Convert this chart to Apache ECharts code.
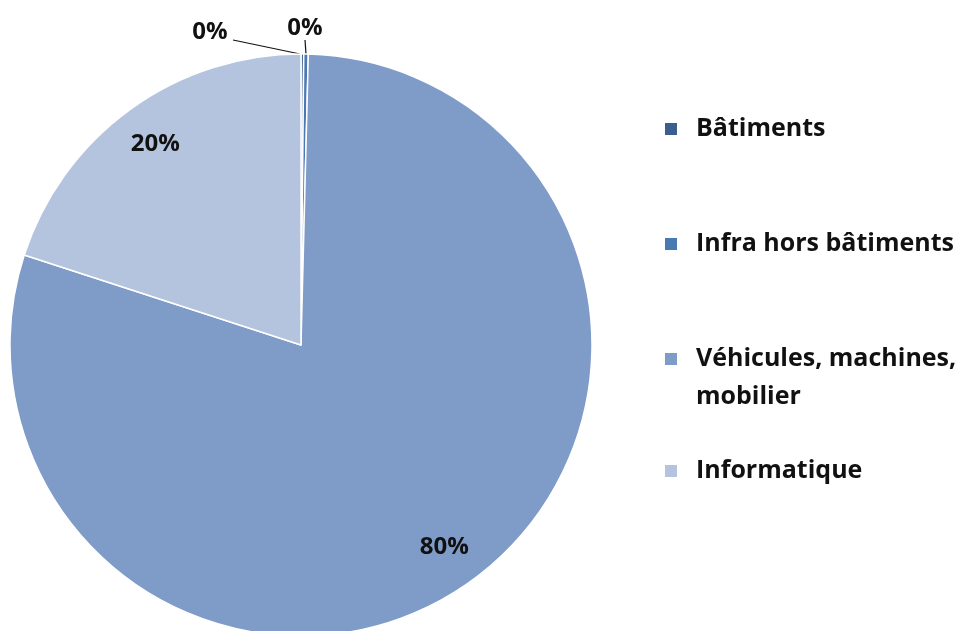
<!DOCTYPE html>
<html>
<head>
<meta charset="utf-8">
<script src="https://cdn.jsdelivr.net/npm/echarts@6/dist/echarts.min.js"></script>
<style>
  html, body { margin: 0; padding: 0; background: #fff; }
  #chart { width: 969px; height: 631px; }
</style>
</head>
<body>
<div id="chart"></div>
<script>
// données
var categories = ['Bâtiments', 'Infra hors bâtiments', 'Véhicules, machines, mobilier', 'Informatique'];
var values = [0.15, 0.25, 79.6, 20.0];
var colors = ['#3B5E8E', '#4A78B3', '#7F9CC9', '#B4C4DF'];

var FONT = 'Open Sans';
var cx = 301, cy = 345, R = 291;
var LH = 38;

var chart = echarts.init(document.getElementById('chart'));

function legendItem (i, top, fmt) {
  var l = {
    orient: 'vertical',
    left: 663,
    top: top,
    padding: 0,
    icon: 'rect',
    itemWidth: 14,
    itemHeight: 14,
    itemGap: 0,
    selectedMode: false,
    data: [categories[i]],
    textStyle: {
      fontFamily: FONT,
      fontWeight: 'bold',
      fontSize: 25,
      lineHeight: LH,
      color: '#111',
      padding: [0, 0, 0, 13]
    }
  }
  if (fmt) l.formatter = fmt
  return l
}

chart.setOption({
  backgroundColor: '#fff',
  legend: [
    legendItem(0, 129 - LH / 2),
    legendItem(1, 244 - LH / 2),
    // ligne vide devant pour que le carré reste sur la 1re ligne
    legendItem(2, 359 - LH * 1.5, function (n) { return '\n' + n.replace(', mobilier', ',\nmobilier') }),
    legendItem(3, 471 - LH / 2)
  ],
  series: [{
    type: 'pie',
    center: [cx, cy],
    radius: R,
    startAngle: 90,
    clockwise: true,
    avoidLabelOverlap: false,
    percentPrecision: 0,
    itemStyle: { borderColor: '#fff', borderWidth: 1.5 },
    label: {
      position: 'inside',
      formatter: '{d}%',
      fontFamily: FONT,
      fontWeight: 'bold',
      fontSize: 24,
      color: '#111'
    },
    labelLine: { show: true, length: 0, length2: 0, lineStyle: { color: '#111', width: 1.2 } },
    labelLayout: function (p) {
      var r = p.labelRect
      var lx = r.x + r.width / 2, ly = r.y + r.height / 2
      if (p.dataIndex === 0) {
        return { x: 210, y: 32, align: 'center', verticalAlign: 'middle',
          labelLinePoints: [[233, 40], [300, 54]] }
      }
      if (p.dataIndex === 1) {
        return { x: 305, y: 28, align: 'center', verticalAlign: 'middle' }
      }
      var k = 0.67
      return { dx: (lx - cx) * k, dy: (ly - cy) * k }
    },
    data: categories.map(function (c, i) {
      return {
        name: c,
        value: values[i],
        itemStyle: { color: colors[i] },
        label: i < 2 ? { position: 'outside' } : {}
      }
    })
  }]
})
</script>
</body>
</html>
